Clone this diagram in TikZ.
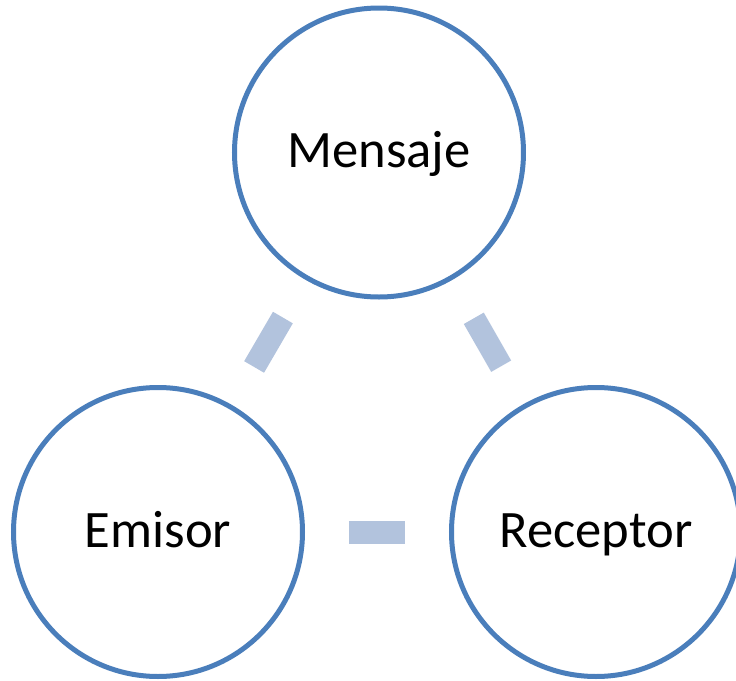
\documentclass[tikz,border=0pt]{standalone}
\usepackage{fontspec}
\setmainfont{Carlito}
\definecolor{ringblue}{RGB}{74,126,187}
\definecolor{barblue}{RGB}{178,195,221}

\begin{document}
\begin{tikzpicture}[x=0.5pt,y=-0.5pt]
  \tikzstyle{ring}=[circle,draw=ringblue,fill=white,line width=2.5pt,
  minimum size=144.5pt,inner sep=0pt,text height=15pt,text depth=0pt,
  font=\fontsize{26.3}{30}\selectfont]
  \tikzstyle{bar}=[draw=barblue,line width=11.5pt,shorten >=22pt,shorten <=22pt]
  \clip (0,0) rectangle (736,681);
  \useasboundingbox (0,0) rectangle (736,681);
  \node[ring](M) at (379,152.5){Mensaje};
  \node[ring](E) at (158,532){Emisor};
  \node[ring](R) at (596,532){Receptor};
  \path[bar] (E) -- (M);
  \path[bar] (M) -- (R);
  \path[bar] (E) -- (R);
\end{tikzpicture}
\end{document}
